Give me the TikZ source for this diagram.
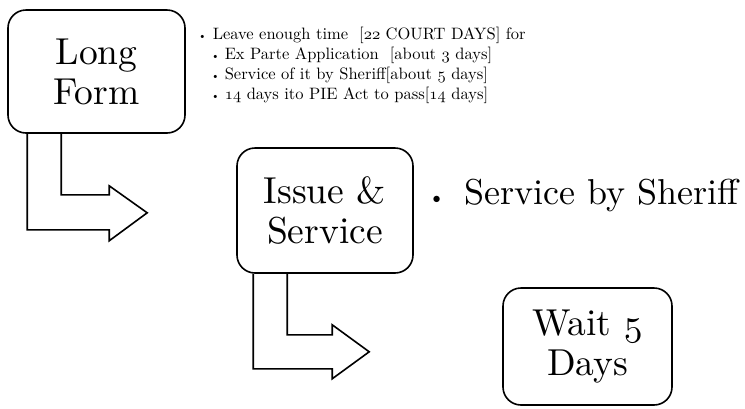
\documentclass[tikz,border=0pt]{standalone}
\usetikzlibrary{calc}
\DeclareFontFamily{TU}{lmx}{}
\DeclareFontShape{TU}{lmx}{m}{n}{<-> "[lmroman10-regular]:mapping=tex-text"}{}
\DeclareFontFamily{OML}{cmx}{\skewchar\font127}
\DeclareFontShape{OML}{cmx}{m}{it}{<-> cmmi10}{}
\newcommand{\osn}[1]{{\usefont{OML}{cmx}{m}{it}#1}}
\newcommand{\smbul}{{\fontsize{11}{11}\selectfont\textbullet}}
\tikzset{
  every node/.style={font=\fontfamily{lmx}\selectfont},
  stepbox/.style={draw, line width=1.6pt, rounded corners=18pt, align=center,
     font=\fontfamily{lmx}\fontsize{37.5}{40}\selectfont, inner sep=0pt},
  bentarrow/.style={draw, line width=1.6pt, line join=miter},
  smalltext/.style={anchor=base west, inner sep=0pt, font=\fontfamily{lmx}\fontsize{16.5}{20}\selectfont},
  bigtext/.style={anchor=base west, inner sep=0pt, font=\fontfamily{lmx}\fontsize{36}{40}\selectfont}
}
\begin{document}
\begin{tikzpicture}[x=1pt,y=-1pt]
\useasboundingbox (0,0) rectangle (745,408);
\node[stepbox, minimum width=177pt, minimum height=123pt] (b1) at (96.5,71.5) {Long\\Form};
\node[stepbox, minimum width=176pt, minimum height=125pt] (b2) at (325,210.5) {Issue \&\\Service};
\node[stepbox, minimum width=169pt, minimum height=117pt] (b3) at (587.5,346.5) {Wait \osn{5}\\Days};

\path[bentarrow] ([xshift=20pt]b1.south west) -- ++(0,96) -- ++(82,0) -- ++(0,11) -- ++(38,-28)
  -- ++(-38,-27) -- ++(0,9) -- ++(-48,0) -- ([xshift=54pt]b1.south west);
\path[bentarrow] ([xshift=17pt]b2.south west) -- ++(0,95) -- ++(79,0) -- ++(0,10) -- ++(37,-27)
  -- ++(-37,-27) -- ++(0,10) -- ++(-45,0) -- ([xshift=51pt]b2.south west);

\node[smalltext] (t1) at (198,39.5) {\smbul\hspace{6pt}Leave enough time\ \ [\osn{22} COURT DAYS] for};
\node[smalltext] (t2) at (211,59.5) {\smbul\hspace{5pt}Ex Parte Application\ \ [about \osn{3} days]};
\node[smalltext] (t3) at (211,79.5) {\smbul\hspace{5pt}Service of it by Sheriff[about \osn{5} days]};
\node[smalltext] (t4) at (211,99.5) {\smbul\hspace{5pt}\osn{14} days ito PIE Act to pass[\osn{14} days]};

\node[bigtext] (s1) at (428,204) {{\fontsize{22}{22}\selectfont\textbullet}\hspace{19pt}Service by Sheriff};
\end{tikzpicture}
\end{document}
